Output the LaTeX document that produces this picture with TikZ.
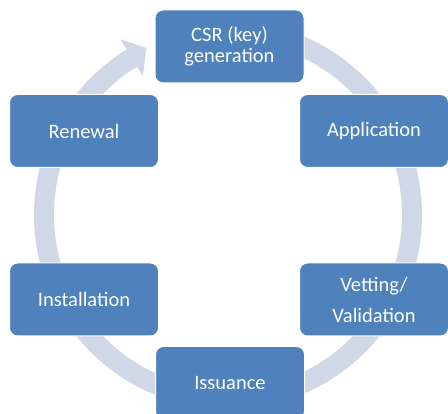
\documentclass[tikz,border=0pt]{standalone}
\usepackage{fontspec}
\setmainfont{Carlito}
\usepackage{tikz}
\usetikzlibrary{positioning, arrows.meta}
\definecolor{stageblue}{RGB}{79,129,189}
\definecolor{ringblue}{RGB}{208,216,232}
\tikzset{
  stage/.style={fill=stageblue, draw=white, line width=1pt, rounded corners=8pt,
    minimum width=149pt, minimum height=73pt, text=white, align=center,
    font=\fontsize{20.5}{21}\selectfont},
  ring/.style={draw=ringblue, line width=20pt}
}
\begin{document}
\begin{tikzpicture}[x=1pt, y=1pt]
        \useasboundingbox (0,0) rectangle (448,414);
        % centre of the cycle
        \coordinate (c) at (228,199);
        % circular arrow
        \draw[ring] ([shift={(100:184)}]c) arc[start angle=100, end angle=-239, radius=184];
        \fill[ringblue] ([shift={(121.5:163)}]c) -- ([shift={(121.5:206)}]c) -- ([shift={(116:186)}]c) -- cycle;
        % stages of the cycle
        \foreach \x/\y/\name/\descr in {229.5/367.5/csr/{CSR (key)\\generation},
          374/283/appl/Application, 374/114.5/vet/{Vetting/\\[10pt]Validation},
          230/31/iss/Issuance, 84/114.5/inst/Installation, 84/283/renew/Renewal}
        \node[stage] (\name) at (\x,\y) {\descr};
\end{tikzpicture}
\end{document}
